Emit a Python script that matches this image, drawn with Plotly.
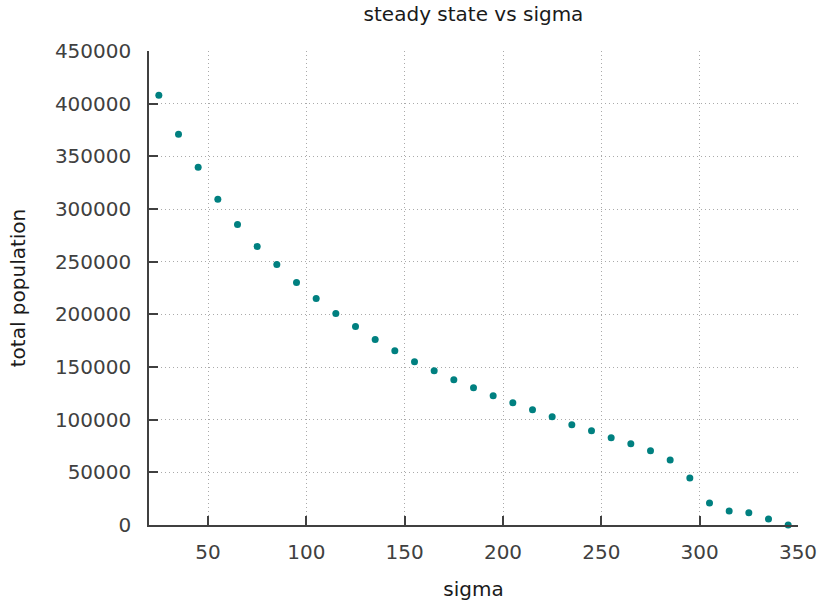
import plotly.graph_objects as go

sigma = [25, 35, 45, 55, 65, 75, 85, 95, 105, 115, 125, 135, 145, 155, 165, 175,
         185, 195, 205, 215, 225, 235, 245, 255, 265, 275, 285, 295, 305, 315, 325, 335, 345]
total_population = [408000, 371000, 339600, 309200, 285400, 264500, 247400, 230200,
                    215000, 200700, 188400, 176000, 165500, 155100, 146500, 138000,
                    130300, 122700, 116100, 109400, 102700, 95100, 89400, 82800,
                    77100, 70400, 61800, 44700, 20900, 13300, 11700, 5700, 0]

x_ticks = [50, 100, 150, 200, 250, 300, 350]
y_ticks = [0, 50000, 100000, 150000, 200000, 250000, 300000, 350000, 400000, 450000]

FONT = "DejaVu Sans"
fig = go.Figure()
fig.add_trace(go.Scatter(
    x=sigma, y=total_population, mode="markers",
    marker=dict(color="#008080", size=7, line=dict(width=0)),
    cliponaxis=False, showlegend=False,
))

fig.update_layout(
    width=821, height=601,
    margin=dict(l=149, r=23, t=51, b=76, autoexpand=False),
    paper_bgcolor="white", plot_bgcolor="white",
    font=dict(family=FONT, size=20, color="#404040"),
    title=dict(text="steady state vs sigma", x=0.5, xanchor="center",
               y=1 - 14 / 601, yanchor="middle",
               xref="paper",
               font=dict(family=FONT, size=20, color="#1a1a1a")),
)
fig.update_xaxes(
    range=[20, 350], tickvals=x_ticks, ticktext=[str(v) for v in x_ticks],
    showline=True, linecolor="#404040", linewidth=1.5,
    ticks="inside", ticklen=9, tickwidth=1.5, tickcolor="#404040",
    showgrid=True, gridcolor="#aaaaaa", griddash="1px,3px", gridwidth=1,
    zeroline=False, ticklabelstandoff=8, automargin=False,
    title=dict(text="sigma", standoff=22, font=dict(family=FONT, size=20, color="#1a1a1a")),
    tickfont=dict(family=FONT, size=20, color="#404040"),
)
fig.update_yaxes(
    range=[0, 450000], tickvals=y_ticks, ticktext=[str(v) for v in y_ticks],
    showline=True, linecolor="#404040", linewidth=1.5,
    ticks="inside", ticklen=9, tickwidth=1.5, tickcolor="#404040",
    showgrid=True, gridcolor="#aaaaaa", griddash="1px,3px", gridwidth=1,
    zeroline=False, ticklabelstandoff=12, automargin=False,
    title=dict(text="total population", standoff=24, font=dict(family=FONT, size=20, color="#1a1a1a")),
    tickfont=dict(family=FONT, size=20, color="#404040"),
)

fig.write_html("out.html")
